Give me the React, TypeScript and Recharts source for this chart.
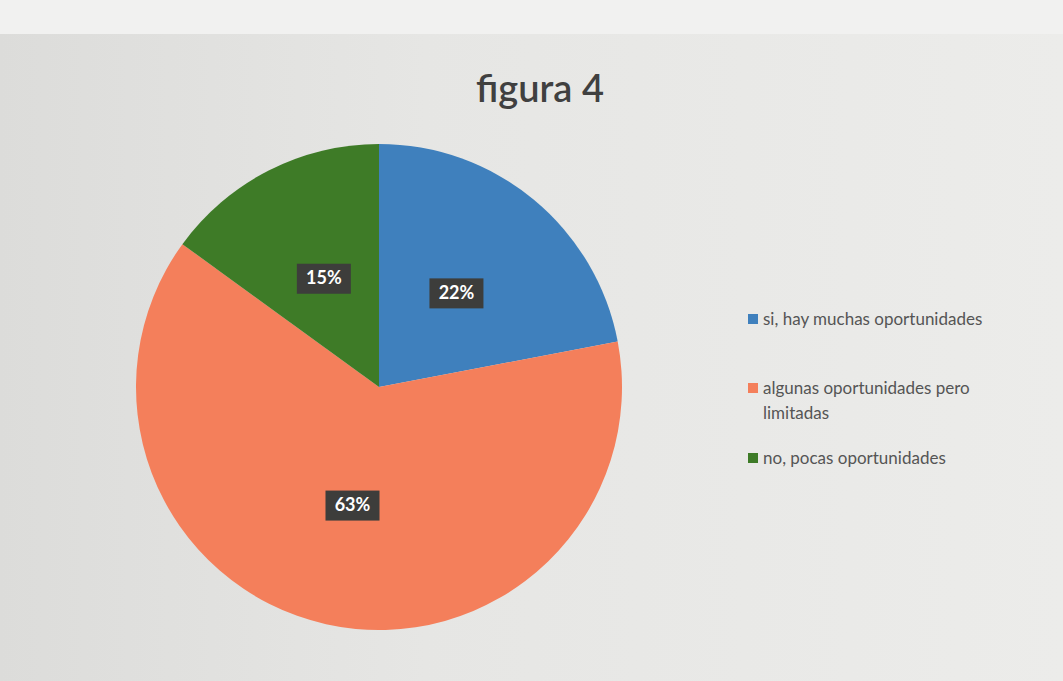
import React from 'react';
import { PieChart, Pie, Cell, Legend } from 'recharts';

const categories = ['si, hay muchas oportunidades', 'algunas oportunidades pero limitadas', 'no, pocas oportunidades'];
const values = [22, 63, 15];
const colors = ['#3f80bd', '#f47f5b', '#3e7b27'];
const title = 'figura 4';

const data = categories.map((name, i) => ({ name, value: values[i] }));
const RADIAN = Math.PI / 180;

const renderLabel = (props: any) => {
  const { cx, cy, midAngle, outerRadius, value } = props;
  const r = outerRadius * 0.5;
  const x = cx + r * Math.cos(-midAngle * RADIAN);
  const y = cy + r * Math.sin(-midAngle * RADIAN);
  const w = 54;
  const h = 30;
  return (
    <g>
      <rect x={x - w / 2} y={y - h / 2} width={w} height={h} fill="#3d3d3b" />
      <text x={x} y={y + 1} fill="#ffffff" fontSize={18} fontWeight="bold" fontFamily="Lato, 'Open Sans', sans-serif" textAnchor="middle" dominantBaseline="middle">
        {`${value}%`}
      </text>
    </g>
  );
};

const renderLegend = () => (
  <div style={{ fontFamily: "Lato, 'Open Sans', sans-serif", fontSize: 17, color: '#555555', width: 290, lineHeight: '25px' }}>
    {categories.map((c, i) => (
      <div key={c} style={{ display: 'flex', alignItems: 'flex-start', marginBottom: i === 0 ? 44 : 20 }}>
        <span style={{ display: 'inline-block', width: 10, height: 10, background: colors[i], marginTop: 8, marginRight: 5, flexShrink: 0 }} />
        <span>{c}</span>
      </div>
    ))}
  </div>
);

export default function App() {
  return (
    <div style={{ position: 'absolute', left: 0, top: 0, width: 1063, height: 681, background: 'linear-gradient(90deg, #dcdcda 0%, #e6e6e4 40%, #ececea 100%)', overflow: 'hidden' }}>
      <div style={{ position: 'absolute', left: 0, top: 0, width: 1063, height: 34, background: '#f1f1f0' }} />
      <div style={{ position: 'absolute', left: 0, top: 64, width: 1080, textAlign: 'center', fontFamily: "Lato, 'Open Sans', sans-serif", fontSize: 38, fontWeight: 600, color: '#404040' }}>
        {title}
      </div>
      <div style={{ position: 'absolute', left: 0, top: 0 }}>
        <PieChart width={1063} height={681}>
          <Pie
            data={data}
            dataKey="value"
            nameKey="name"
            cx={374}
            cy={382}
            outerRadius={243}
            startAngle={90}
            endAngle={-270}
            stroke="none"
            label={renderLabel}
            labelLine={false}
            isAnimationActive={false}
          >
            {data.map((d, i) => (
              <Cell key={d.name} fill={colors[i]} />
            ))}
          </Pie>
          <Legend content={renderLegend} wrapperStyle={{ position: 'absolute', left: 748, top: 306, width: 300 }} />
        </PieChart>
      </div>
    </div>
  );
}
